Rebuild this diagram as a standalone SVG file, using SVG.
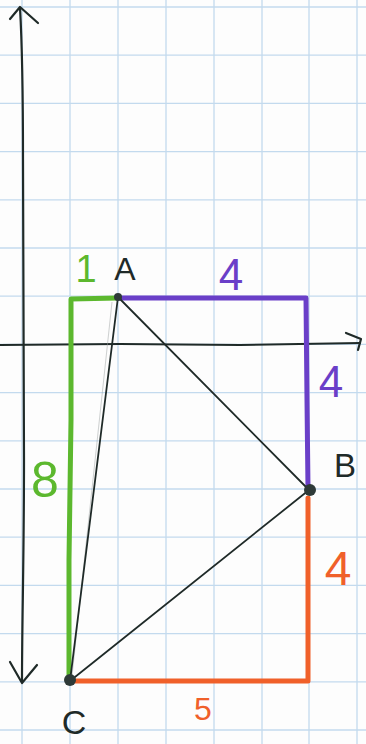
<svg xmlns="http://www.w3.org/2000/svg" width="366" height="744" viewBox="0 0 366 744">
<style>
.grid line{stroke:#c3daee;stroke-width:1.3}
.pen{fill:none;stroke:#1f2a28;stroke-linecap:round;stroke-linejoin:round}
.axis{stroke-width:2.2}
.tri{stroke-width:1.8}
.mk{fill:none;stroke-width:5;stroke-linecap:round;stroke-linejoin:round}
.g{stroke:#5cb82e}.p{stroke:#6a3fc8}.o{stroke:#f0602a}
.dot{fill:#2e3a38}
text{font-family:"Liberation Sans","DejaVu Sans",sans-serif;text-anchor:middle}
.tg{fill:#5cb82e}.tp{fill:#6a3fc8}.to{fill:#f0602a}.tk{fill:#1f2a28}
</style>
<rect width="366" height="744" fill="#fdfdfd"/>
<g class="grid">
<line x1="22" y1="0" x2="22" y2="744"/><line x1="70" y1="0" x2="70" y2="744"/><line x1="118" y1="0" x2="118" y2="744"/><line x1="166" y1="0" x2="166" y2="744"/><line x1="214" y1="0" x2="214" y2="744"/><line x1="262" y1="0" x2="262" y2="744"/><line x1="309" y1="0" x2="309" y2="744"/><line x1="357" y1="0" x2="357" y2="744"/>
<line x1="0" y1="7" x2="366" y2="7"/><line x1="0" y1="55.2" x2="366" y2="55.2"/><line x1="0" y1="103.4" x2="366" y2="103.4"/><line x1="0" y1="151.6" x2="366" y2="151.6"/><line x1="0" y1="199.8" x2="366" y2="199.8"/><line x1="0" y1="248" x2="366" y2="248"/><line x1="0" y1="296.2" x2="366" y2="296.2"/><line x1="0" y1="344.4" x2="366" y2="344.4"/><line x1="0" y1="392.6" x2="366" y2="392.6"/><line x1="0" y1="440.8" x2="366" y2="440.8"/><line x1="0" y1="489" x2="366" y2="489"/><line x1="0" y1="537.2" x2="366" y2="537.2"/><line x1="0" y1="585.4" x2="366" y2="585.4"/><line x1="0" y1="633.6" x2="366" y2="633.6"/><line x1="0" y1="681.8" x2="366" y2="681.8"/><line x1="0" y1="730" x2="366" y2="730"/>
</g>
<g id="axes">
<path class="pen axis" d="M20,8 C23,60 23,100 23,160 C23,260 24,360 24,460 C24,560 22,620 22,682"/>
<path class="pen axis" d="M10,19 L20,7 L38,23"/>
<path class="pen axis" d="M10,662 L22,683 L37,665"/>
<path class="pen axis" d="M0,345 L120,344 L240,345 L360,343"/>
<path class="pen axis" d="M346,333 L361,339 L358,350"/>
</g>
<g id="connectors">
<path class="mk g" d="M118,298 L71,299 L71,420 L69,560 L69,681"/>
<path class="mk p" d="M120,298 L200,298 L306,298 L307,400 L308,489"/>
<path class="mk o" d="M308,498 L308,600 L308,681 L200,681 L74,681"/>
<line x1="112" y1="302" x2="72" y2="676" stroke="#9aa0a0" stroke-width="0.8" opacity="0.6"/>
<path class="pen tri" d="M118,297 L309,490"/>
<path class="pen tri" d="M309,490 L70,681"/>
<path class="pen tri" d="M70,681 L118,297"/>
</g>
<g id="node-A">
<circle class="dot" cx="118" cy="297" r="4"/>
<text class="tk" x="125" y="280" font-size="32">A</text>
</g>
<g id="node-B">
<circle class="dot" cx="310" cy="490" r="6"/>
<text class="tk" x="345" y="477" font-size="33">B</text>
</g>
<g id="node-C">
<circle class="dot" cx="70" cy="680" r="6"/>
<text class="tk" x="74" y="734" font-size="34">C</text>
</g>
<g id="labels">
<text class="tg" x="86" y="282" font-size="38">1</text>
<text class="tp" x="231" y="290" font-size="44">4</text>
<text class="tp" x="331" y="397" font-size="44">4</text>
<text class="tg" x="45" y="497" font-size="50">8</text>
<text class="to" x="338" y="585" font-size="48">4</text>
<text class="to" x="203" y="720" font-size="32">5</text>
</g>
</svg>
